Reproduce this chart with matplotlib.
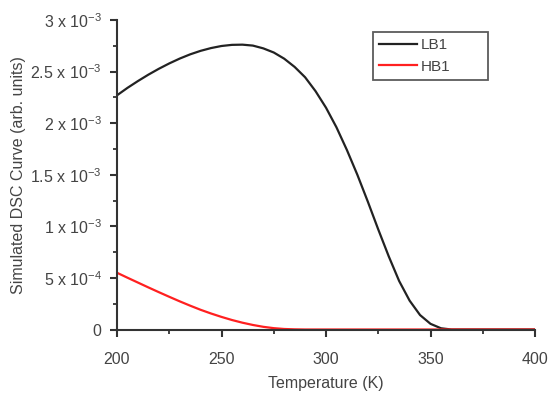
import matplotlib
matplotlib.use("Agg")
import matplotlib.pyplot as plt
from matplotlib.ticker import MultipleLocator, FixedLocator, FixedFormatter

plt.rcParams['font.family'] = ['Liberation Sans', 'DejaVu Sans']
plt.rcParams['mathtext.fontset'] = 'custom'
plt.rcParams['mathtext.rm'] = 'Liberation Sans'
plt.rcParams['mathtext.it'] = 'Liberation Sans'

# Data (values in units of 1e-3 arb. units)
temperature = [200, 205, 210, 215, 220, 225, 230, 235, 240, 245,
               250, 255, 260, 265, 270, 275, 280, 285, 290, 295,
               300, 305, 310, 315, 320, 325, 330, 335, 340, 345,
               350, 355, 360, 365, 370, 375, 380, 385, 390, 395, 400]
lb1 = [2.27, 2.342, 2.408, 2.47, 2.527, 2.579, 2.626, 2.667, 2.701, 2.728,
       2.748, 2.759, 2.761, 2.752, 2.725, 2.685, 2.625, 2.545, 2.445, 2.31,
       2.15, 1.96, 1.74, 1.50, 1.24, 0.97, 0.71, 0.47, 0.28, 0.14,
       0.055, 0.012, 0.0, 0.0, 0.0, 0.0, 0.0, 0.0, 0.0, 0.0, 0.0]
hb1 = [0.55, 0.502, 0.455, 0.408, 0.362, 0.317, 0.273, 0.231, 0.191, 0.155,
       0.122, 0.092, 0.066, 0.044, 0.026, 0.013, 0.005, 0.0015, 0.0, 0.0,
       0.0, 0.0, 0.0, 0.0, 0.0, 0.0, 0.0, 0.0, 0.0, 0.0,
       0.0, 0.0, 0.0, 0.0, 0.0, 0.0, 0.0, 0.0, 0.0, 0.0, 0.0]
series_labels = ['LB1', 'HB1']
y_tick_values = [0, 0.5e-3, 1e-3, 1.5e-3, 2e-3, 2.5e-3, 3e-3]
y_tick_labels = ['0', r'5 x 10$^{-4}$', r'1 x 10$^{-3}$', r'1.5 x 10$^{-3}$',
                 r'2 x 10$^{-3}$', r'2.5 x 10$^{-3}$', r'3 x 10$^{-3}$']
x_tick_values = [200, 250, 300, 350, 400]

scale = 1e-3
text_color = '#444444'
axis_color = '#333333'

fig = plt.figure(figsize=(5.49, 3.93), dpi=100)
ax = fig.add_axes([117/549, 1 - 329.5/393, (535-117)/549, (329.5-20)/393])

ax.plot(temperature, [v*scale for v in lb1], color='#222222', lw=1.6, label=series_labels[0])
ax.plot(temperature, [v*scale for v in hb1], color='#ff2020', lw=1.6, label=series_labels[1])

ax.set_xlim(200, 400)
ax.set_ylim(0, 3e-3)

for s in ['top', 'right']:
    ax.spines[s].set_visible(False)
for s in ['left', 'bottom']:
    ax.spines[s].set_color(axis_color)
    ax.spines[s].set_linewidth(1.5)

ax.xaxis.set_major_locator(FixedLocator(x_tick_values))
ax.xaxis.set_minor_locator(MultipleLocator(25))
ax.yaxis.set_major_locator(FixedLocator(y_tick_values))
ax.yaxis.set_major_formatter(FixedFormatter(y_tick_labels))
ax.yaxis.set_minor_locator(MultipleLocator(0.25e-3))

ax.tick_params(axis='both', which='major', direction='out', length=5, width=1.5,
               color=axis_color, labelcolor=text_color, labelsize=11.5)
ax.tick_params(axis='both', which='minor', direction='out', length=3, width=1.3,
               color=axis_color)
ax.tick_params(axis='x', which='major', pad=11)
ax.tick_params(axis='y', which='major', pad=6)

ax.set_xlabel('Temperature (K)', fontsize=11.5, color=text_color, labelpad=7)
ax.set_ylabel('Simulated DSC Curve (arb. units)', fontsize=11.5, color=text_color, labelpad=3)

leg = ax.legend(loc='upper left', bbox_to_anchor=(373/549, 1 - 81/393, (488-373)/549, (81-32)/393),
                bbox_transform=fig.transFigure, mode='expand', fontsize=11,
                frameon=True, fancybox=False, handlelength=2.5, handletextpad=0.2,
                labelspacing=0.5, borderpad=0.4, borderaxespad=0)
leg.get_frame().set_edgecolor('#333333')
leg.get_frame().set_linewidth(1.3)
for t in leg.get_texts():
    t.set_color(text_color)

fig.savefig('out.png', dpi=100)
